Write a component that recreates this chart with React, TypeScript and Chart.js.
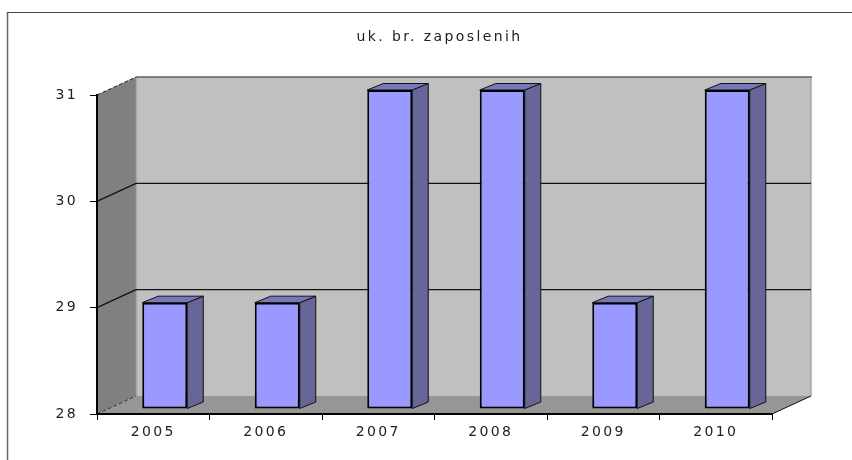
import React, { useEffect, useRef } from "react";
import { Chart, registerables } from "chart.js";

Chart.register(...registerables);

const categories = ["2005", "2006", "2007", "2008", "2009", "2010"];
const employees = [29, 29, 31, 31, 29, 31];
const chartTitle = "uk. br. zaposlenih";
const yMin = 28;
const yMax = 31;

const WALL_DX = 39;
const WALL_DY = 18;
const BAR_SHIFT_X = 11.5;
const BAR_SHIFT_Y = 5;
const BAR_DX = 16;
const BAR_DY = 6.5;

function poly(ctx: CanvasRenderingContext2D, pts: number[][], fill?: string, stroke?: string, lw = 1) {
  ctx.beginPath();
  pts.forEach((p, i) => (i ? ctx.lineTo(p[0], p[1]) : ctx.moveTo(p[0], p[1])));
  ctx.closePath();
  if (fill) {
    ctx.fillStyle = fill;
    ctx.fill();
  }
  if (stroke) {
    ctx.strokeStyle = stroke;
    ctx.lineWidth = lw;
    ctx.stroke();
  }
}

function line(ctx: CanvasRenderingContext2D, x1: number, y1: number, x2: number, y2: number, color: string, lw = 1, dash: number[] = []) {
  ctx.save();
  ctx.beginPath();
  ctx.setLineDash(dash);
  ctx.moveTo(x1, y1);
  ctx.lineTo(x2, y2);
  ctx.strokeStyle = color;
  ctx.lineWidth = lw;
  ctx.stroke();
  ctx.restore();
}

const scene3d = {
  id: "scene3d",
  afterLayout(chart: any) {
    if (chart.titleBlock) {
      chart.titleBlock.left += 5;
      chart.titleBlock.right += 5;
    }
  },
  beforeDraw(chart: any) {
    const ctx: CanvasRenderingContext2D = chart.ctx;
    const { left, right, top, bottom } = chart.chartArea;
    const yScale = chart.scales.y;
    (ctx as any).letterSpacing = "2.4px";
    ctx.save();
    ctx.fillStyle = "#ffffff";
    ctx.fillRect(0, 0, chart.width, chart.height);
    line(ctx, 7.5, 12, 7.5, chart.height, "#666666", 1.5);
    line(ctx, 7, 12.5, chart.width, 12.5, "#444444", 1.2);

    const bl = left + WALL_DX;
    const br = right + WALL_DX;
    const bt = top - WALL_DY;
    const bb = bottom - WALL_DY;
    poly(ctx, [[bl, bt], [br, bt], [br, bb], [bl, bb]], "#c0c0c0");
    poly(ctx, [[left, top], [bl, bt], [bl, bb], [left, bottom]], "#808080");
    poly(ctx, [[left, bottom], [bl, bb], [br, bb], [right, bottom]], "#969696");
    line(ctx, bl + 0.5, bt, bl + 0.5, bb, "#a8a8a8", 1.5);
    line(ctx, br, bt, br, bb, "#a8a8a8", 1.5);
    line(ctx, bl, bt, br + 1, bt, "#5f5f5f", 1.6);

    for (let v = yMin + 1; v < yMax; v++) {
      const y = yScale.getPixelForValue(v);
      line(ctx, left, y, bl, y - WALL_DY, "#111111", 1.3);
      line(ctx, bl, y - WALL_DY, br, y - WALL_DY, "#111111", 1.3);
    }
    line(ctx, left, top, bl, bt, "#222222", 1, [4, 2]);
    line(ctx, left, bottom, bl, bb, "#333333", 1, [4, 2]);
    line(ctx, right, bottom, br, bb, "#111111", 1);
    ctx.restore();
  },
  beforeDatasetsDraw(chart: any) {
    const ctx: CanvasRenderingContext2D = chart.ctx;
    ctx.save();
    chart.getDatasetMeta(0).data.forEach((bar: any) => {
      const { x, y, base, width } = bar.getProps(["x", "y", "base", "width"], true);
      const l = x - width / 2 + BAR_SHIFT_X;
      const r = x + width / 2 + BAR_SHIFT_X;
      const t = y - BAR_SHIFT_Y;
      const b = base - BAR_SHIFT_Y;
      poly(ctx, [[r, t], [r + BAR_DX, t - BAR_DY], [r + BAR_DX, b - BAR_DY], [r, b]], "#666699", "#111111", 1);
      poly(ctx, [[l, t], [l + BAR_DX, t - BAR_DY], [r + BAR_DX, t - BAR_DY], [r, t]], "#7777bb", "#111111", 1);
    });
    ctx.restore();
    ctx.save();
    ctx.translate(BAR_SHIFT_X, -BAR_SHIFT_Y);
  },
  afterDatasetsDraw(chart: any) {
    chart.ctx.restore();
  },
};

export default function App() {
  const ref = useRef<HTMLCanvasElement>(null);

  useEffect(() => {
    if (!ref.current) return;
    const chart = new Chart(ref.current, {
      type: "bar",
      data: {
        labels: categories,
        datasets: [
          {
            label: chartTitle,
            data: employees,
            base: yMin,
            backgroundColor: "#9999ff",
            borderColor: "#000000",
            borderWidth: 2,
            borderSkipped: false,
            barPercentage: 0.4,
            categoryPercentage: 1,
          },
        ],
      },
      options: {
        responsive: false,
        animation: false,
        layout: { padding: { left: 0, right: 80, top: 0, bottom: 0 } },
        plugins: {
          legend: { display: false },
          tooltip: { enabled: false },
          title: {
            display: true,
            text: chartTitle,
            color: "#222222",
            font: { family: "'DejaVu Sans'", size: 14, weight: "normal", lineHeight: 1.2 },
            padding: { top: 29, bottom: 49.2 },
            fullSize: false,
          },
        },
        scales: {
          x: {
            afterFit: (s: any) => {
              s.height = 46;
            },
            grid: { drawOnChartArea: false, drawTicks: true, tickLength: 6, tickColor: "#000000", offset: true },
            border: { display: true, color: "#000000", width: 2 },
            ticks: { color: "#222222", padding: 4, maxRotation: 0, font: { family: "'DejaVu Sans'", size: 14 } },
          },
          y: {
            min: yMin,
            max: yMax,
            afterFit: (s: any) => {
              s.width = 97;
            },
            grid: { drawOnChartArea: false, drawTicks: true, tickLength: 7, tickColor: "#000000" },
            border: { display: true, color: "#000000", width: 2 },
            ticks: { stepSize: 1, color: "#222222", padding: 12, font: { family: "'DejaVu Sans'", size: 14 } },
          },
        },
      },
      plugins: [scene3d],
    } as any);
    return () => chart.destroy();
  }, []);

  return (
    <canvas
      ref={ref}
      width={852}
      height={460}
      style={{ position: "absolute", left: 0, top: 0, display: "block" }}
    />
  );
}
